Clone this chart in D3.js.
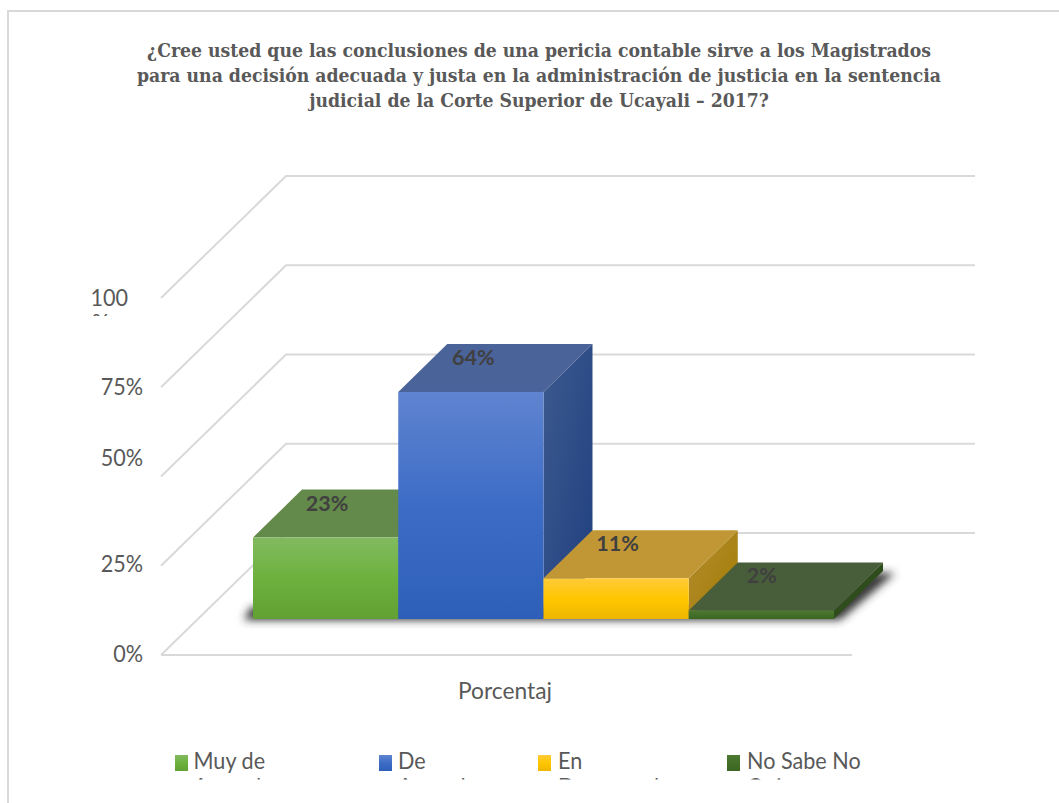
<!DOCTYPE html>
<html>
<head>
<meta charset="utf-8">
<script src="https://cdn.jsdelivr.net/npm/d3@7"></script>
<style>
  html, body { margin: 0; padding: 0; background: #fff; overflow: hidden; }
</style>
</head>
<body>
<div id="chart"></div>
<script>
var categories = ["Muy de Acuerdo", "De Acuerdo", "En Desacuerdo", "No Sabe No Opina"];
// bar heights; the printed labels are rounded
var values = [22.8, 63.6, 11.4, 2.4];
var valueLabels = ["23%", "64%", "11%", "2%"];
var axisTicks = [0, 25, 50, 75, 100];
var tickLabels = ["0%", "25%", "50%", "75%", "100"];
var titleLines = [
  "¿Cree usted que las conclusiones de una pericia contable sirve a los Magistrados",
  "para una decisión adecuada y justa en la administración de justicia en la sentencia",
  "judicial de la Corte Superior de Ucayali – 2017?"
];
var legendFirst = ["Muy de", "De", "En", "No Sabe No"];
var legendSecond = ["Acuerdo", "Acuerdo", "Desacuerdo", "Opina"];

var width = 1059, height = 803;

// colours per series: front top/mid/bottom, top face, side face dark/light
var frontColors = [
  ["#82ba60", "#6db13d", "#62a033"],
  ["#5f84d0", "#3d6cc6", "#2d5fb9"],
  ["#ffca38", "#ffc600", "#eeb700"],
  ["#4d7a32", "#436f28", "#3c6623"]
];
var topColors = ["#648a4b", "#4a6399", "#c09734", "#485d3a"];
var sideColors = [
  ["#4d7a32", "#4d7a32"],
  ["#3d5a8f", "#1f3f7f"],
  ["#b38c32", "#a37c00"],
  ["#33511f", "#2b4719"]
];

// depth of the chart floor and of the bars, in px
var floorDx = 125;
var barDx = 49, barDy = -48;

var yFront = d3.scaleLinear().domain([0, 100]).range([655, 298]);
var yBack = d3.scaleLinear().domain([0, 100]).range([533, 176]);
var yBar = d3.scaleLinear().domain([0, 100]).range([619, 262]);
var xBar = d3.scaleBand().domain(categories).range([253, 834]);

var svg = d3.select("#chart").append("svg")
    .attr("width", width)
    .attr("height", height)
    .style("display", "block");

var defs = svg.append("defs");

defs.append("filter")
    .attr("id", "blur")
    .attr("x", "-10%").attr("y", "-30%")
    .attr("width", "120%").attr("height", "160%")
  .append("feGaussianBlur")
    .attr("stdDeviation", 4);

frontColors.forEach(function(c, i) {
  var g = defs.append("linearGradient")
      .attr("id", "front" + i)
      .attr("x1", 0).attr("y1", 0).attr("x2", 0).attr("y2", 1);
  g.append("stop").attr("offset", "0%").attr("stop-color", c[0]);
  g.append("stop").attr("offset", "50%").attr("stop-color", c[1]);
  g.append("stop").attr("offset", "100%").attr("stop-color", c[2]);

  var s = defs.append("linearGradient")
      .attr("id", "side" + i)
      .attr("x1", 0).attr("y1", 0).attr("x2", 1).attr("y2", 1);
  s.append("stop").attr("offset", "0%").attr("stop-color", sideColors[i][0]);
  s.append("stop").attr("offset", "100%").attr("stop-color", sideColors[i][1]);
});

// Clipped boxes: the wrapped labels are cut off in the original
defs.append("clipPath").attr("id", "clipLegend")
  .append("rect").attr("x", 0).attr("y", 740).attr("width", width).attr("height", 39.5);
defs.append("clipPath").attr("id", "clipTick")
  .append("rect").attr("x", 0).attr("y", 280).attr("width", 160).attr("height", 36);

// The labels are a narrow font, Lato squeezed a little comes close
function narrowText(sel, x, y, scale) {
  return sel
      .attr("transform", "translate(" + x + "," + y + ") scale(" + scale + ",1)")
      .attr("font-family", "Lato, sans-serif")
      .attr("fill", "#595959");
}

// Frame: the picture is cropped, only top and left edges show
svg.append("path")
    .attr("d", "M8," + height + "V11H" + width)
    .attr("fill", "none")
    .attr("stroke", "#d9d9d9")
    .attr("stroke-width", 2);

// Title
svg.append("g").selectAll("text")
    .data(titleLines)
  .enter().append("text")
    .attr("x", 539)
    .attr("y", function(d, i) { return 57 + i * 25; })
    .attr("text-anchor", "middle")
    .attr("font-family", "'DejaVu Serif', serif")
    .attr("font-stretch", "condensed")
    .attr("font-weight", "bold")
    .attr("font-size", 19.2)
    .attr("fill", "#595959")
    .text(function(d) { return d; });

// Gridlines: front-left, up the side wall, then along the back wall
var grid = svg.append("g").attr("fill", "none").attr("stroke", "#d9d9d9").attr("stroke-width", 2);

grid.selectAll("path")
    .data(axisTicks)
  .enter().append("path")
    .attr("d", function(d) {
      return "M161," + yFront(d) + "L" + (161 + floorDx) + "," + yBack(d) + "H975";
    });

grid.append("path")
    .attr("d", "M161," + yFront(0) + "H852");

// Axis labels; "100%" wraps in the original and its % is cut off
svg.append("g")
    .attr("clip-path", "url(#clipTick)")
  .append("text")
    .call(narrowText, 92, 331, 0.9)
    .attr("font-size", 24)
    .text("%");

var tickY = [653, 563, 457, 386, 297];
var tickX = [143, 143, 143, 143, 128];

svg.append("g").selectAll("text")
    .data(tickLabels)
  .enter().append("text")
    .each(function(d, i) { narrowText(d3.select(this), tickX[i], tickY[i] + 8.5, 0.9); })
    .attr("text-anchor", "end")
    .attr("font-size", 24)
    .text(function(d) { return d; });

// Shadow under the bars
var x0 = xBar.range()[0], x1 = xBar.range()[1], base = yBar(0);
svg.append("path")
    .attr("d", "M" + (x0 - 9) + "," + (base + 1) + "H" + (x1 + 6) + "L" + (x1 + barDx + 12) + "," + (base + barDy + 2) + "H" + (x1 + barDx - 10) + "L" + x1 + "," + (base - 12) + "H" + (x0 - 2) + "Z")
    .attr("fill", "#333")
    .attr("filter", "url(#blur)");

// Bars: back pieces are painted first so each front face covers its neighbour
var bars = svg.append("g").selectAll("g")
    .data(categories)
  .enter().append("g");

bars.append("path")
    .attr("fill", function(d, i) { return "url(#side" + i + ")"; })
    .attr("d", function(d, i) {
      var r = xBar(d) + xBar.bandwidth(), t = yBar(values[i]);
      return "M" + r + "," + t + "l" + barDx + "," + barDy + "V" + (base + barDy) + "L" + r + "," + base + "Z";
    });

bars.append("path")
    .attr("fill", function(d, i) { return topColors[i]; })
    .attr("d", function(d, i) {
      var l = xBar(d), t = yBar(values[i]);
      return "M" + l + "," + t + "l" + barDx + "," + barDy + "h" + xBar.bandwidth() + "l" + (-barDx) + "," + (-barDy) + "Z";
    });

bars.append("rect")
    .attr("x", function(d) { return xBar(d); })
    .attr("y", function(d, i) { return yBar(values[i]); })
    .attr("width", xBar.bandwidth())
    .attr("height", function(d, i) { return base - yBar(values[i]); })
    .attr("fill", function(d, i) { return "url(#front" + i + ")"; });

// Value labels sit on the top faces
var labelDx = [74, 75, 74, 73];
svg.append("g").selectAll("text")
    .data(valueLabels)
  .enter().append("text")
    .attr("x", function(d, i) { return xBar(categories[i]) + labelDx[i]; })
    .attr("y", function(d, i) { return yBar(values[i]) - 27; })
    .attr("text-anchor", "middle")
    .attr("font-family", "Lato, sans-serif")
    .attr("font-weight", "bold")
    .attr("font-size", 21.5)
    .attr("fill", "#404040")
    .text(function(d) { return d; });

// Category label, cut short in the original
svg.append("text")
    .call(narrowText, 505, 699, 0.95)
    .attr("text-anchor", "middle")
    .attr("font-size", 24)
    .text("Porcentaj");

// Legend
var legendX = d3.scaleOrdinal().domain(categories).range([175, 379, 538, 727]);
var legendTextDx = [18.5, 19, 20, 20];
var legend = svg.append("g").attr("clip-path", "url(#clipLegend)");

var items = legend.selectAll("g")
    .data(categories)
  .enter().append("g")
    .attr("transform", function(d) { return "translate(" + legendX(d) + ",755)"; });

items.append("rect")
    .attr("width", 13).attr("height", 16)
    .attr("fill", function(d, i) { return "url(#front" + i + ")"; });

items.append("text")
    .each(function(d, i) { narrowText(d3.select(this), legendTextDx[i], 14, 0.9); })
    .attr("font-size", 24)
    .text(function(d, i) { return legendFirst[i]; });

items.append("text")
    .each(function(d, i) { narrowText(d3.select(this), legendTextDx[i], 40, 0.9); })
    .attr("font-size", 24)
    .text(function(d, i) { return legendSecond[i]; });
</script>
</body>
</html>
